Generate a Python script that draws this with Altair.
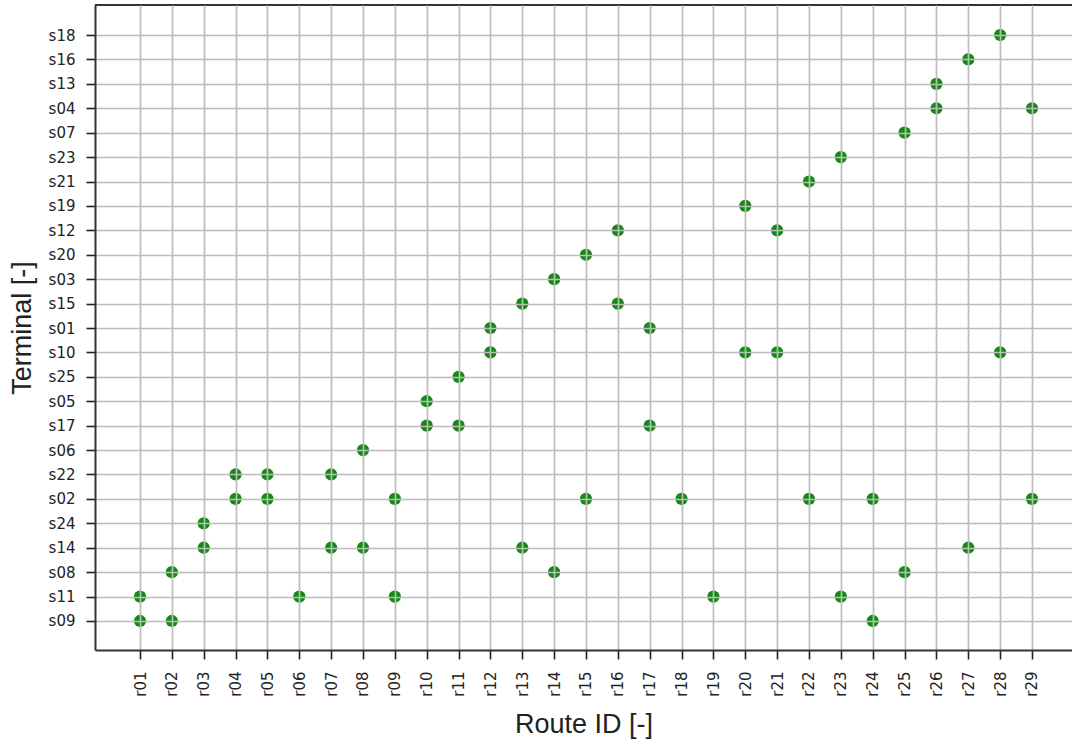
import altair as alt
import pandas as pd

routes = [f"r{i:02d}" for i in range(1, 30)]
terminals_bottom_up = ["s09", "s11", "s08", "s14", "s24", "s02", "s22", "s06", "s17", "s05",
                       "s25", "s10", "s01", "s15", "s03", "s20", "s12", "s19", "s21", "s23",
                       "s07", "s04", "s13", "s16", "s18"]

route_col = ["r01", "r01", "r02", "r02", "r03", "r03", "r04", "r04", "r05", "r05",
             "r06", "r07", "r07", "r08", "r08", "r09", "r09", "r10", "r10", "r11",
             "r11", "r12", "r12", "r13", "r13", "r14", "r14", "r15", "r15", "r16",
             "r16", "r17", "r17", "r18", "r19", "r20", "r20", "r21", "r21", "r22",
             "r22", "r23", "r23", "r24", "r24", "r25", "r25", "r26", "r26", "r27",
             "r27", "r28", "r28", "r29", "r29"]
terminal_col = ["s11", "s09", "s08", "s09", "s24", "s14", "s22", "s02", "s22", "s02",
                "s11", "s22", "s14", "s06", "s14", "s02", "s11", "s05", "s17", "s25",
                "s17", "s01", "s10", "s15", "s14", "s03", "s08", "s20", "s02", "s12",
                "s15", "s01", "s17", "s02", "s11", "s19", "s10", "s12", "s10", "s21",
                "s02", "s23", "s11", "s02", "s09", "s07", "s08", "s13", "s04", "s16",
                "s14", "s18", "s10", "s04", "s02"]

df = pd.DataFrame({"route": route_col, "terminal": terminal_col})
df["xi"] = [routes.index(r) + 1 for r in df["route"]]
df["yi"] = [terminals_bottom_up.index(t) for t in df["terminal"]]

W, H = 977, 645
x_labels_js = "[" + ",".join(f"'{r}'" for r in routes) + "]"
y_labels_js = "[" + ",".join(f"'{t}'" for t in terminals_bottom_up) + "]"

common_axis = dict(zindex=1, grid=True, gridColor="#bcbcbc", gridWidth=1.7, gridOpacity=1,
                   domain=True, domainColor="#333", domainWidth=2,
                   tickColor="#222", tickSize=9, tickWidth=1.6,
                   labelFontSize=15, labelColor="#222", labelFont="DejaVu Sans",
                   titleFontSize=27, titleFontWeight="normal", titleColor="#222",
                   titleFont="Liberation Sans", labelFlush=False, labelOverlap=False)

points = alt.Chart(df).mark_circle(size=150, color="#138a13", opacity=1).encode(
    x=alt.X("xi:Q", scale=alt.Scale(domain=[-0.4126, 30.256], nice=False, zero=False),
            axis=alt.Axis(title="Route ID [-]", values=list(range(1, 30)),
                          labelExpr=f"{x_labels_js}[datum.value - 1]",
                          labelAngle=-90, labelAlign="right", labelBaseline="middle",
                          labelPadding=12, titlePadding=15, **common_axis)),
    y=alt.Y("yi:Q", scale=alt.Scale(domain=[-1.188, 25.229], nice=False, zero=False),
            axis=alt.Axis(title="Terminal [-]", values=list(range(0, 25)),
                          labelExpr=f"{y_labels_js}[datum.value]",
                          labelPadding=11, titlePadding=12, **common_axis)),
)

top_border = alt.Chart(df).mark_rule(color="#333", strokeWidth=2).encode(
    x=alt.value(0), x2=alt.value(W), y=alt.value(0)
)

chart = alt.layer(points, top_border).properties(
    width=W, height=H,
    autosize=alt.AutoSizeParams(type="none"),
    padding={"left": 95, "top": 5, "right": 0, "bottom": 95},
    background="white",
).configure_view(stroke=None)

chart.save("out.html", embed_options={"renderer": "svg", "actions": False})
